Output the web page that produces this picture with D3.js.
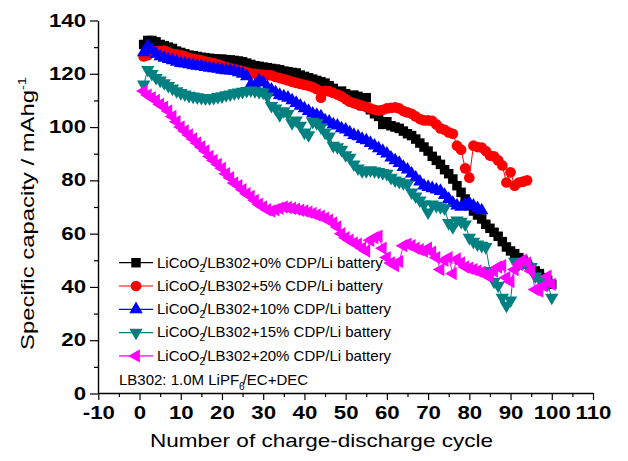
<!DOCTYPE html>
<html>
<head>
<meta charset="utf-8">
<script src="https://cdn.jsdelivr.net/npm/d3@7"></script>
<style>
body { margin: 0; background: #fff; }
</style>
</head>
<body>
<script>
const width = 628;
const height = 461;

// tick values
const xTicks = [-10, 0, 10, 20, 30, 40, 50, 60, 70, 80, 90, 100, 110];
const xMinor = [-5, 5, 15, 25, 35, 45, 55, 65, 75, 85, 95, 105];
const yTicks = [0, 20, 40, 60, 80, 100, 120, 140];
const yMinor = [10, 30, 50, 70, 90, 110, 130];

// legend labels
const cdpLevels = ["0%", "5%", "10%", "15%", "20%"];

// specific capacity per cycle (cycle 1, 2, 3, ...)
const cap0 = [131, 132.5, 132.5, 132, 131, 130.5, 130, 129.5, 128.5, 128,
  127.5, 127, 126.8, 126.5, 126.2, 126, 125.8, 125.6, 125.5, 125.5,
  125.3, 125.2, 125, 124.8, 124.5, 124, 123.5, 123, 122.8, 122.5,
  122.3, 122, 121.8, 121.5, 121, 120.8, 120.5, 120.3, 119.5, 119,
  118.5, 118, 117.5, 117, 116.5, 115.5, 114.5, 113, 113.5, 112.5,
  110, 112, 111.5, 108, 111, 106.5, 105, 104, 101, 102,
  100.5, 100, 99.5, 98.5, 97.5, 96.8, 95.5, 94, 92.5, 91,
  89, 87.5, 86, 84, 82.5, 80.5, 78, 75.5, 73, 70.5,
  68.5, 67, 65.5, 63.5, 62, 60.5, 59, 57, 55, 53.5,
  52.5, 51, 50, 48.5, 47, 46, 45, 43.5, 42.5, 41];

const cap5 = [126.5, 127, 128, 128.5, 128.5, 128.7, 128, 127.5, 127.2, 127,
  126.5, 126, 125.6, 125.3, 125, 124.6, 124.3, 124, 123.5, 123,
  122.5, 122, 121.8, 121.4, 121, 120.5, 120.2, 120, 119.8, 119.6,
  119.5, 119.4, 118.8, 118.4, 118, 117.5, 117, 116.6, 116.2, 115.8,
  115.5, 115, 114.2, 111, 113.6, 113.4, 112.8, 112.2, 111.5, 110.5,
  109.5, 109, 108.5, 108, 107.5, 107, 106.5, 106.2, 106.5, 107,
  107.2, 107.4, 107, 106, 105.5, 105, 104, 103, 102.5, 102.5,
  102.3, 101, 99.5, 99, 98, 97.5, 93, 91.5, 84.5, 81,
  93, 92.5, 92.3, 91, 89.3, 89, 87.5, 85.6, 79.2, 83,
  78, 79.2, 79.5, 80];

const cap10 = [128, 130.5, 129, 127.5, 126.5, 126, 125.5, 125, 124.5, 124,
  123.8, 123.5, 123.2, 123, 122.8, 122.5, 122.2, 122, 121.8, 121.5,
  121.3, 121.2, 121, 120.5, 120, 119, 116, 115.6, 117.5, 116.7,
  115, 114, 113, 112, 111.5, 111, 110, 109, 108, 107,
  106, 105, 104.5, 104, 102.5, 102, 101, 100.5, 99.5, 99,
  98, 97, 96.5, 95.5, 95, 94, 93, 92, 91, 90,
  88.5, 87.5, 86.5, 85, 84, 82.5, 81, 79.5, 78, 77.5,
  77, 76.5, 76, 74.5, 73, 71.5, 70.5, 70, 71, 71.5,
  70.5, 69.5, 68.7];

const cap15 = [116, 121.5, 120, 118.5, 117.5, 116.5, 115.5, 114.5, 113.5, 112.8,
  112.3, 111.8, 111.5, 111.2, 111, 110.8, 110.8, 111, 111.3, 111.6,
  112, 112.3, 112.7, 113, 113.3, 113.6, 113.8, 113.5, 113.2, 113,
  111.5, 108, 107, 104.5, 106, 105, 101.5, 102.5, 100.5, 98,
  97, 102, 101.5, 100, 98, 96.5, 93, 92.5, 91.5, 89.5,
  88.5, 86, 84.5, 83.5, 83.5, 83.8, 83.5, 83.2, 82.8, 82.5,
  81, 80, 79.5, 79, 78.5, 75.5, 74, 72.5, 71, 68,
  71, 70.5, 70, 69.5, 64, 62.5, 65, 64.5, 63.5, 58.5,
  57, 56, 55.5, 55, 46, 42, 40.5, 36, 33, 35,
  49.5, 48.5, 49, 48, 47.5, 44, 43, 42, 41, 36];

const cap20 = [113.5, 112, 111, 110, 108.5, 107.5, 106, 104, 102, 100,
  98.5, 97, 95.5, 94, 92.5, 91, 89, 87.5, 86, 84.5,
  82.5, 81, 79, 78, 76.5, 75, 74, 72.5, 71, 70,
  69, 68.5, 69, 69.5, 70, 69.8, 69.5, 69.2, 68.8, 68.5,
  68, 67.6, 67, 66.5, 65.8, 65, 64, 62.5, 60, 58.5,
  57.5, 56.5, 56, 54.5, 53.5, 57.5, 58.5, 59, 54.5, 51,
  49, 48, 49.5, 55.5, 56, 55.5, 54.5, 54, 53.5, 54.5,
  53, 51, 46.5, 50, 51, 45, 50.5, 49, 47.5, 47,
  46.5, 46, 45.5, 44.5, 44, 46, 47.5, 48, 43.5, 42,
  46.5, 48.5, 50, 49, 46, 39, 38.5, 40.5, 44, 41];

const allSeries = [cap0, cap5, cap10, cap15, cap20];
const colors = ["#000000", "#ff0000", "#0000ff", "#008080", "#ff00ff"];
const shapes = [d3.symbolSquare, d3.symbolCircle, d3.symbolTriangle, d3.symbolTriangle, d3.symbolTriangle];
const shapeSize = [90, 90, 78, 78, 78];
const shapeRot = [0, 0, 0, 180, -90];

const x = d3.scaleLinear().domain([-10, 110]).range([98.3, 593]);
const y = d3.scaleLinear().domain([0, 140]).range([393.5, 20.5]);

const svg = d3.select("body").append("svg")
  .attr("width", width)
  .attr("height", height)
  .style("font-family", "Arial, 'Liberation Sans', sans-serif");

svg.append("rect").attr("width", width).attr("height", height).attr("fill", "#fff");

// minor ticks
svg.append("g")
  .attr("transform", "translate(0,393)")
  .call(d3.axisBottom(x).tickValues(xMinor).tickSize(4).tickSizeOuter(0).tickFormat(""))
  .call(g => g.select(".domain").remove());
svg.append("g")
  .attr("transform", "translate(98,0)")
  .call(d3.axisLeft(y).tickValues(yMinor).tickSize(4).tickSizeOuter(0).tickFormat(""))
  .call(g => g.select(".domain").remove());

// main axes
const xAxis = svg.append("g")
  .attr("transform", "translate(0,393)")
  .call(d3.axisBottom(x).tickValues(xTicks).tickSize(7).tickSizeOuter(0).tickFormat(d => String(d)));
xAxis.selectAll("text")
  .attr("y", 14)
  .attr("transform", "scale(1.27,1)");

const yAxis = svg.append("g")
  .attr("transform", "translate(98,0)")
  .call(d3.axisLeft(y).tickValues(yTicks).tickSize(8).tickSizeOuter(0).tickFormat(d => String(d)));
yAxis.selectAll("text")
  .attr("x", -12 / 1.27)
  .attr("transform", "scale(1.27,1)");

svg.selectAll(".tick text")
  .style("font-size", "17.5px")
  .style("font-weight", "bold")
  .attr("fill", "#000");
svg.selectAll(".domain").attr("stroke-width", 1.4);
svg.selectAll(".tick line").attr("stroke-width", 1.2);

// axis titles
svg.append("text")
  .attr("x", 150)
  .attr("y", 447)
  .attr("textLength", 343)
  .attr("lengthAdjust", "spacingAndGlyphs")
  .style("font-size", "19px")
  .text("Number of charge-discharge cycle");

const yTitle = svg.append("text")
  .attr("transform", "translate(33.5,350) rotate(-90)")
  .attr("textLength", 273)
  .attr("lengthAdjust", "spacingAndGlyphs")
  .style("font-size", "18px");
yTitle.append("tspan").text("Specific capacity / mAhg");
yTitle.append("tspan").attr("dy", -8).style("font-size", "11px").text("-1");

// data
allSeries.forEach((vals, i) => {
  const pts = vals.map((v, j) => [j + 1, v]);
  const g = svg.append("g");
  g.append("path")
    .datum(pts)
    .attr("fill", "none")
    .attr("stroke", colors[i])
    .attr("stroke-width", 1)
    .attr("d", d3.line().x(d => x(d[0])).y(d => y(d[1])));
  g.selectAll("path.mk")
    .data(pts)
    .join("path")
    .attr("class", "mk")
    .attr("transform", d => `translate(${x(d[0])},${y(d[1])}) rotate(${shapeRot[i]})`)
    .attr("d", d3.symbol(shapes[i], shapeSize[i])())
    .attr("fill", colors[i]);
});

// legend
const legend = svg.append("g");
cdpLevels.forEach((p, i) => {
  const ly = 262.7 + i * 23.3;
  legend.append("line")
    .attr("x1", 119).attr("x2", 153)
    .attr("y1", ly).attr("y2", ly)
    .attr("stroke", colors[i]).attr("stroke-width", 1.2);
  legend.append("path")
    .attr("transform", `translate(136,${ly}) rotate(${shapeRot[i]})`)
    .attr("d", d3.symbol(shapes[i], shapeSize[i])())
    .attr("fill", colors[i]);
  const t = legend.append("text")
    .attr("x", 157)
    .attr("y", ly + 4.8)
    .style("font-size", "15px");
  t.append("tspan").text("LiCoO");
  t.append("tspan").attr("dy", 4).style("font-size", "10px").text("2");
  t.append("tspan").attr("dy", -4).attr("dx", -2).text("/LB302+" + p + " CDP/Li battery");
});

const note = svg.append("text")
  .attr("x", 119)
  .attr("y", 385)
  .style("font-size", "15px");
note.append("tspan").text("LB302: 1.0M LiPF");
note.append("tspan").attr("dy", 5).style("font-size", "10px").text("6");
note.append("tspan").attr("dy", -5).attr("dx", -2).text("/EC+DEC");
</script>
</body>
</html>
